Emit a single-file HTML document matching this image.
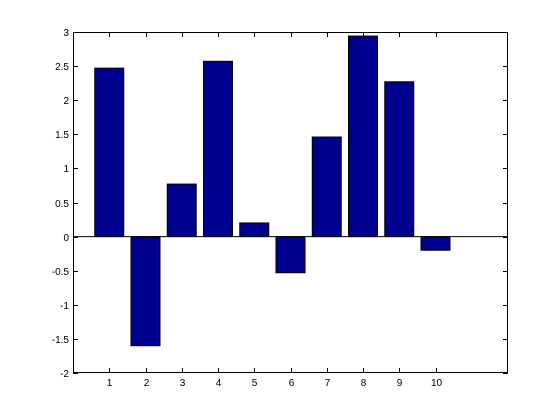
<!DOCTYPE html>
<html><head><meta charset="utf-8"><style>
html,body{margin:0;padding:0;background:#fff;width:560px;height:420px;overflow:hidden}
svg text{font-family:"Liberation Sans",sans-serif;font-size:10px;fill:#000}
</style></head><body>
<svg id="chart" width="560" height="420"></svg>
<script>
const categories=[1,2,3,4,5,6,7,8,9,10];
const values=[2.47,-1.60,0.77,2.57,0.20,-0.53,1.46,2.94,2.27,-0.20];
const yTicks=[-2,-1.5,-1,-0.5,0,0.5,1,1.5,2,2.5,3];
const xTicks=[1,2,3,4,5,6,7,8,9,10];
const L=73,R=508,T=32,B=373,xmin=0,xmax=12,ymin=-2,ymax=3;
const sx=v=>L+(v-xmin)/(xmax-xmin)*(R-L);
const sy=v=>B-(v-ymin)/(ymax-ymin)*(B-T);
const svg=document.getElementById('chart');
const NS='http://www.w3.org/2000/svg';
function mk(tag,attrs){const e=document.createElementNS(NS,tag);for(const k in attrs)e.setAttribute(k,attrs[k]);svg.appendChild(e);return e;}
const bg=mk('rect',{x:L,y:T,width:R-L,height:B-T,fill:'#fff',stroke:'none'});


categories.forEach((c,i)=>{
  const v=values[i];const w=(sx(0.8)-sx(0));
  const y0=sy(Math.max(v,0)),y1=sy(Math.min(v,0));
  const r=mk('rect',{x:sx(c)-w/2,y:y0,width:w,height:y1-y0,fill:'#00008f',stroke:'#000','stroke-width':1});
  
  
});
const base=mk('line',{x1:L,x2:R,y1:sy(0),y2:sy(0),stroke:'#000','stroke-width':1});


const frame=mk('rect',{x:L+0.5,y:T+0.5,width:R-L-1,height:B-T-1,fill:'none',stroke:'#000','stroke-width':1});


yTicks.forEach(t=>{
  const y=Math.round(sy(t))+0.5;
  mk('line',{x1:L,x2:L+5,y1:y,y2:y,stroke:'#000'});
  mk('line',{x1:R-5,x2:R,y1:y,y2:y,stroke:'#000'});
  const tx=mk('text',{x:L-4,y:y+3.5,'text-anchor':'end'});tx.textContent=t;
  
  
});
xTicks.forEach(t=>{
  const x=Math.round(sx(t))+0.5;
  mk('line',{x1:x,x2:x,y1:B,y2:B-5,stroke:'#000'});
  mk('line',{x1:x,x2:x,y1:T,y2:T+5,stroke:'#000'});
  const tx=mk('text',{x:x,y:B+13,'text-anchor':'middle'});tx.textContent=t;
  
  
});
</script>
</body></html>
